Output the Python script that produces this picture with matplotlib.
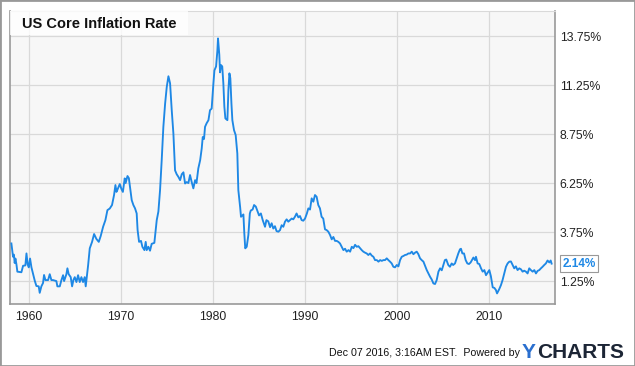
import matplotlib.pyplot as plt
from matplotlib.patches import Rectangle

plt.rcParams['font.family'] = ['Liberation Sans', 'DejaVu Sans']

# US core CPI, year-over-year %
years = [
    1958.08, 1958.26, 1958.35, 1958.44, 1958.52, 1958.63, 1958.73, 1959.17, 1959.35, 1959.6,
    1959.72, 1959.85, 1959.97, 1960.11, 1960.26, 1960.44, 1960.62, 1960.8, 1961.05, 1961.16,
    1961.34, 1961.52, 1961.63, 1961.78, 1962.07, 1962.25, 1962.43, 1962.61, 1962.97, 1963.08,
    1963.34, 1963.52, 1963.7, 1963.81, 1964.06, 1964.17, 1964.31, 1964.53, 1964.68, 1964.82,
    1964.97, 1965.15, 1965.33, 1965.51, 1965.69, 1965.87, 1966.05, 1966.16, 1966.27, 1966.42,
    1966.6, 1966.85, 1967.07, 1967.32, 1967.58, 1967.79, 1968.05, 1968.3, 1968.52, 1968.77,
    1969.02, 1969.24, 1969.39, 1969.5, 1969.6, 1969.86, 1970.04, 1970.2, 1970.4, 1970.5,
    1970.7, 1970.85, 1971.16, 1971.34, 1971.52, 1971.7, 1971.8, 1971.96, 1972.17, 1972.32,
    1972.54, 1972.68, 1972.79, 1972.97, 1973.15, 1973.33, 1973.62, 1973.88, 1974.06, 1974.24,
    1974.42, 1974.6, 1974.79, 1974.97, 1975.15, 1975.33, 1975.51, 1975.69, 1975.87, 1976.05,
    1976.23, 1976.42, 1976.6, 1976.78, 1976.96, 1977.14, 1977.32, 1977.5, 1977.68, 1977.86,
    1978.05, 1978.2, 1978.4, 1978.6, 1978.77, 1978.88, 1979.02, 1979.13, 1979.3, 1979.5,
    1979.67, 1979.85, 1980.04, 1980.15, 1980.33, 1980.47, 1980.54, 1980.68, 1980.76, 1980.87,
    1981.0, 1981.12, 1981.23, 1981.34, 1981.56, 1981.67, 1981.78, 1981.88, 1982.0, 1982.1,
    1982.28, 1982.46, 1982.64, 1982.75, 1982.95, 1983.04, 1983.3, 1983.4, 1983.5, 1983.66,
    1983.84, 1984.0, 1984.1, 1984.3, 1984.46, 1984.65, 1984.85, 1985.0, 1985.2, 1985.4,
    1985.65, 1985.8, 1986.0, 1986.2, 1986.37, 1986.55, 1986.73, 1986.9, 1987.1, 1987.28,
    1987.46, 1987.64, 1987.82, 1988.0, 1988.18, 1988.37, 1988.55, 1988.72, 1988.9, 1989.08,
    1989.27, 1989.45, 1989.63, 1989.81, 1990.0, 1990.2, 1990.36, 1990.54, 1990.72, 1990.9,
    1991.08, 1991.26, 1991.44, 1991.62, 1991.8, 1991.98, 1992.17, 1992.35, 1992.53, 1992.72,
    1992.9, 1993.08, 1993.26, 1993.44, 1993.62, 1993.8, 1993.98, 1994.17, 1994.35, 1994.53,
    1994.72, 1994.9, 1995.08, 1995.26, 1995.44, 1995.62, 1995.8, 1995.98, 1996.16, 1996.34,
    1996.52, 1996.7, 1996.88, 1997.07, 1997.25, 1997.43, 1997.61, 1997.8, 1997.98, 1998.16,
    1998.34, 1998.52, 1998.7, 1998.88, 1999.06, 1999.24, 1999.42, 1999.6, 1999.78, 1999.97,
    2000.15, 2000.33, 2000.51, 2000.69, 2000.87, 2001.05, 2001.23, 2001.42, 2001.6, 2001.78,
    2001.96, 2002.14, 2002.32, 2002.5, 2002.68, 2002.87, 2003.05, 2003.23, 2003.41, 2003.59,
    2003.77, 2003.95, 2004.13, 2004.31, 2004.5, 2004.68, 2004.86, 2005.04, 2005.2, 2005.35,
    2005.57, 2005.75, 2005.94, 2006.1, 2006.3, 2006.48, 2006.66, 2006.84, 2006.95, 2007.1,
    2007.28, 2007.46, 2007.64, 2007.82, 2008.0, 2008.15, 2008.3, 2008.48, 2008.58, 2008.76,
    2008.94, 2009.13, 2009.31, 2009.49, 2009.67, 2009.85, 2010.03, 2010.2, 2010.4, 2010.58,
    2010.75, 2010.87, 2011.1, 2011.3, 2011.47, 2011.65, 2011.84, 2012.02, 2012.2, 2012.38,
    2012.56, 2012.74, 2012.92, 2013.1, 2013.29, 2013.47, 2013.65, 2013.82, 2014.01, 2014.19,
    2014.37, 2014.55, 2014.74, 2014.92, 2015.1, 2015.28, 2015.46, 2015.64, 2015.82, 2016.0,
    2016.18, 2016.36, 2016.55, 2016.7, 2016.8,
]
rates = [
    3.17, 2.49, 2.6, 2.17, 2.4, 2.1, 1.73, 1.7, 2.03, 2.05,
    2.66, 2.1, 1.95, 2.4, 1.95, 1.6, 1.27, 1.0, 0.98, 0.65,
    0.98, 1.15, 1.56, 1.3, 1.3, 1.6, 1.3, 1.3, 1.25, 0.98,
    0.98, 1.3, 1.55, 1.25, 1.6, 1.9, 1.6, 1.45, 0.98, 1.3,
    1.45, 1.2, 1.55, 1.2, 1.45, 1.2, 1.45, 0.98, 1.45, 2.05,
    2.92, 3.25, 3.65, 3.4, 3.25, 3.55, 4.02, 4.36, 4.87, 4.95,
    5.13, 5.64, 6.15, 5.8, 5.9, 6.2, 5.95, 5.8, 6.49, 6.25,
    6.61, 6.5, 5.38, 5.13, 4.96, 4.7, 3.85, 3.25, 3.3, 3.0,
    2.83, 3.25, 2.83, 3.0, 2.8, 3.15, 3.2, 4.36, 4.8, 5.89,
    7.42, 9.12, 10.3, 11.16, 11.7, 11.34, 9.97, 8.78, 6.9, 6.7,
    6.57, 6.4, 6.7, 6.8, 6.23, 6.3, 6.25, 6.66, 6.3, 5.98,
    6.4, 6.25, 7.0, 7.42, 8.02, 8.6, 8.5, 9.12, 9.3, 9.46,
    9.97, 10.05, 11.34, 12.0, 12.2, 13.0, 13.63, 12.8, 11.9, 12.27,
    12.2, 11.34, 10.15, 9.55, 9.46, 11.0, 11.85, 11.6, 10.3, 9.46,
    8.95, 8.7, 7.76, 5.89, 5.0, 4.53, 4.65, 3.68, 2.92, 3.0,
    3.6, 4.7, 4.85, 4.9, 5.13, 5.05, 4.79, 4.6, 4.7, 4.36,
    4.02, 4.36, 4.3, 4.0, 4.2, 3.93, 4.05, 3.8, 3.77, 3.85,
    4.1, 4.02, 4.28, 4.4, 4.28, 4.36, 4.44, 4.4, 4.53, 4.7,
    4.5, 4.57, 4.36, 4.33, 4.44, 4.7, 4.96, 4.9, 5.47, 5.3,
    5.64, 5.55, 5.13, 4.96, 4.53, 4.44, 3.89, 3.85, 3.77, 3.6,
    3.38, 3.5, 3.3, 3.3, 3.25, 3.17, 3.0, 2.83, 2.9, 2.75,
    2.83, 2.75, 3.0, 2.93, 3.1, 3.0, 3.03, 2.93, 2.83, 2.75,
    2.7, 2.66, 2.58, 2.66, 2.55, 2.49, 2.32, 2.32, 2.24, 2.32,
    2.28, 2.32, 2.32, 2.41, 2.32, 2.24, 2.15, 1.98, 1.95, 2.07,
    2.0, 2.32, 2.49, 2.53, 2.58, 2.6, 2.66, 2.66, 2.75, 2.62,
    2.7, 2.75, 2.62, 2.41, 2.32, 2.24, 2.03, 1.81, 1.64, 1.47,
    1.33, 1.13, 1.1, 1.3, 1.73, 1.9, 1.8, 2.07, 2.32, 2.35,
    2.07, 1.98, 2.15, 2.07, 2.15, 2.41, 2.66, 2.87, 2.9, 2.66,
    2.66, 2.32, 2.15, 2.12, 2.2, 2.32, 2.45, 2.32, 2.49, 2.15,
    2.12, 1.9, 1.73, 1.81, 1.55, 1.68, 1.81, 1.5, 0.93, 0.9,
    0.79, 0.62, 0.83, 1.05, 1.3, 1.64, 1.98, 2.15, 2.24, 2.25,
    2.07, 1.9, 2.0, 1.81, 1.9, 1.85, 1.73, 1.78, 1.73, 1.64,
    1.9, 1.81, 1.73, 1.81, 1.64, 1.77, 1.81, 1.9, 1.98, 2.07,
    2.15, 2.3, 2.2, 2.3, 2.14,
]

year_ticks = [1960, 1970, 1980, 1990, 2000, 2010]
rate_ticks = [1.25, 3.75, 6.25, 8.75, 11.25, 13.75]

title = "US Core Inflation Rate"
stamp = "Dec 07 2016, 3:16AM EST.  Powered by"

line_color = '#1e88e5'

fig = plt.figure(figsize=(6.35, 3.66), dpi=100)
ax = fig.add_axes([10 / 635, 62 / 366, 545 / 635, 293 / 366])
ax.set_facecolor('#f7f7f7')

ax.plot(years, rates, color=line_color, lw=1.35, zorder=3)

ax.set_xlim(1957.93, 2017.17)
ax.set_ylim(0.08, 15.03)
ax.set_xticks(year_ticks)
ax.set_yticks(rate_ticks)
ax.set_yticklabels([f"{v:.2f}%" for v in rate_ticks])
ax.yaxis.tick_right()
ax.tick_params(length=0, labelsize=8.8, colors='#222222')
ax.tick_params(axis='y', pad=3.5)
ax.tick_params(axis='x', pad=5)
ax.grid(color='#d9d9d9', lw=0.9)
ax.set_axisbelow(True)

for side in ['left', 'bottom', 'right']:
    ax.spines[side].set_color('#999999')
    ax.spines[side].set_linewidth(1.2)
ax.spines['top'].set_color('#d9d9d9')

# title box
ax.add_patch(Rectangle((0, 1 - 24 / 293), 178 / 545, 24 / 293, transform=ax.transAxes,
                       facecolor='white', alpha=0.8, edgecolor='none', zorder=4))
ax.text(12 / 545, 1 - 12.5 / 293, title, transform=ax.transAxes, fontsize=10.5,
        fontweight='bold', color='#111111', va='center', ha='left', zorder=5)

# last value label
ax.annotate(f"{rates[-1]:.2f}%", xy=(1, rates[-1]), xycoords=('axes fraction', 'data'),
            xytext=(5.5, 0), textcoords='offset points', va='center', ha='left',
            fontsize=8.5, fontweight='bold', color=line_color, annotation_clip=False,
            bbox=dict(boxstyle='square,pad=0.2', fc='white', ec='#999999', lw=0.8))

# footer
fig.text(520 / 635, 10 / 366, stamp, fontsize=7.7, color='#111111', ha='right', va='baseline')
fig.text(522 / 635, 8 / 366, "Y", fontsize=15, fontweight='heavy', color='#2a6fcf',
         ha='left', va='baseline')
fig.text(537 / 635, 8 / 366, "CHARTS", fontsize=15, fontweight='heavy', color='#1c2535',
         ha='left', va='baseline')

fig.patches.append(Rectangle((0, 0), 1, 1, transform=fig.transFigure, fill=False,
                             edgecolor='#999999', lw=2))

fig.savefig('out.png', dpi=100)
